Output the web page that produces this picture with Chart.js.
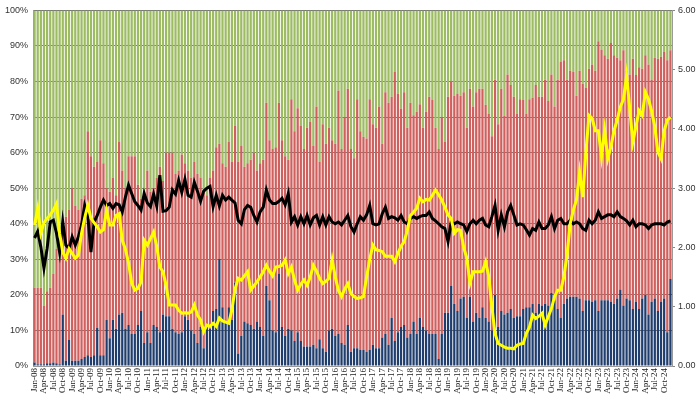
<!DOCTYPE html>
<html>
<head>
<meta charset="utf-8">
<script src="https://cdn.jsdelivr.net/npm/chart.js@4/dist/chart.umd.min.js"></script>
<style>
  html, body { margin: 0; padding: 0; background: #ffffff; }
  #wrap { width: 700px; height: 394px; position: relative; }
</style>
</head>
<body>
<div id="wrap"><canvas id="mixChart"></canvas></div>
<script>
// Categories: monthly, Jan-08 .. Dec-24
const monthNames = ["Jan", "Feb", "Mar", "Apr", "May", "Jun", "Jul", "Aug", "Sep", "Oct", "Nov", "Dec"];
const yearCodes = ["08", "09", "10", "11", "12", "13", "14", "15", "16", "17", "18", "19", "20", "21", "22", "23", "24"];

// Stacked shares (%), one row per year
const blueShare = [
  1, 0.5, 0.5, 0.5, 0.8, 0.8, 1, 0.8, 0.5, 14.5, 1.5, 7.3,
  1.5, 1.5, 1.5, 2, 2.5, 3, 2.5, 3, 10.7, 3, 3, 13,
  7.8, 13, 10.5, 14.5, 15, 10.5, 11.5, 9, 9, 11.5, 15.5, 6.5,
  9.5, 6.5, 11.5, 11, 9.5, 14.5, 14, 14, 10.5, 9.5, 9, 9.5,
  14, 13, 10, 9, 6.5, 11, 5, 11, 10.5, 15.5, 16, 30,
  16.5, 12.5, 16.5, 13, 23.5, 3.5, 8.5, 12.5, 12, 11.5, 10.5, 12.5,
  11, 8.5, 22.5, 18.5, 10, 9.5, 26, 11, 8.5, 10.5, 10, 7,
  9.5, 7, 5.5, 5.5, 5.5, 6, 5, 7.5, 5, 4, 10, 10.5,
  8.5, 9, 6.5, 6, 11.5, 4, 5, 5, 4.5, 4.5, 4, 4.5,
  6, 5, 5, 8, 9, 6, 13.5, 7, 9.5, 11, 11.5, 8,
  9, 12.5, 9, 13.5, 11, 10, 9, 9, 9, 2, 9, 15,
  15, 22.5, 17.5, 15.5, 19, 19.5, 13.5, 19.5, 12.5, 15, 13.5, 16.5,
  13.5, 12.5, 10, 20, 11, 15.5, 14.5, 15, 16, 13.5, 14, 14,
  16, 16.5, 16.5, 17.5, 15, 17.5, 17, 17.5, 17, 20.5, 18.5, 16,
  13.5, 17.5, 19, 19.5, 19.5, 19.5, 19, 15.5, 18.5, 18.5, 18, 18.5,
  15.5, 18.5, 18.5, 18.5, 18, 17.5, 19, 21.5, 17, 19, 18.5, 16,
  18, 16, 19, 20, 14.5, 18, 19, 15.5, 18, 19, 9.5, 24.5
];

const redShare = [
  21, 21.5, 21.5, 16.5, 20.2, 21.2, 25, 32.2, 29.5, 23.5, 40.5, 36.7,
  48.5, 43.5, 42.5, 45, 45.5, 63, 56.5, 53, 46.8, 60.5, 54, 37,
  41.2, 40, 37.5, 48.5, 40, 39.5, 47.5, 50, 50, 39.5, 31.5, 41.5,
  45.5, 42.5, 38.5, 42, 46.5, 37.5, 46, 46, 49.5, 44.5, 46, 50,
  43, 42, 43, 48.5, 47.5, 42, 44, 37, 42.5, 39.5, 45.5, 32.5,
  40.5, 43.5, 46.5, 44.5, 44, 54, 53.5, 43.5, 45, 46.5, 49.5, 42.5,
  46, 49.5, 51.5, 45, 51, 52, 48, 52.5, 50.5, 47.5, 65, 59,
  63, 60.5, 55.5, 61.5, 63.1, 56, 68, 50, 63, 58.5, 57, 53,
  54, 68.5, 54.5, 64, 66.5, 57, 53.4, 70, 61.5, 60, 60, 70.5,
  62, 62, 68, 54.5, 68, 68, 62.2, 75.7, 67.1, 61.4, 65.5, 59,
  65, 58, 62.5, 60.1, 56, 61.5, 66.7, 65.8, 58, 59, 61, 48,
  60.7, 57.5, 58.5, 61.1, 57, 57.5, 53.5, 58.5, 60.5, 62, 64.5, 61.5,
  60, 58.5, 54.6, 60.5, 57, 62.5, 55.8, 67, 63, 62.2, 57, 61,
  58.8, 54.5, 58.5, 58, 64, 58.2, 58.7, 63, 57.5, 61.5, 54.5, 64.5,
  72, 68.5, 61.5, 63.5, 63.2, 56.5, 64, 63.9, 59.8, 65.1, 66.8, 64.5,
  75.8, 70.5, 68.9, 67.9, 72.8, 69.9, 67.7, 64.5, 71.8, 64, 63.5, 70.4,
  63.8, 68, 64.6, 67.4, 70.3, 62.4, 67.7, 70.9, 69, 69.3, 76.5, 64.3
];

const greenShare = [
  78, 78, 78, 83, 79, 78, 74, 67, 70, 62, 58, 56,
  50, 55, 56, 53, 52, 34, 41, 44, 42.5, 36.5, 43, 50,
  51, 47, 52, 37, 45, 50, 41, 41, 41, 49, 53, 52,
  45, 51, 50, 47, 44, 48, 40, 40, 40, 46, 45, 40.5,
  43, 45, 47, 42.5, 46, 47, 51, 52, 47, 45, 38.5, 37.5,
  43, 44, 37, 42.5, 32.5, 42.5, 38, 44, 43, 42, 40, 45,
  43, 42, 26, 36.5, 39, 38.5, 26, 36.5, 41, 42, 25, 34,
  27.5, 32.5, 39, 33, 31.4, 38, 27, 42.5, 32, 37.5, 33, 36.5,
  37.5, 22.5, 39, 30, 22, 39, 41.6, 25, 34, 35.5, 36, 25,
  32, 33, 27, 37.5, 23, 26, 24.3, 17.3, 23.4, 27.6, 23, 33,
  26, 29.5, 28.5, 26.4, 33, 28.5, 24.3, 25.2, 33, 39, 30, 37,
  24.3, 20, 24, 23.4, 24, 23, 33, 22, 27, 23, 22, 22,
  26.5, 29, 35.4, 19.5, 32, 22, 29.7, 18, 21, 24.3, 29, 25,
  25.2, 29, 25, 24.5, 21, 24.3, 24.3, 19.5, 25.5, 18, 27, 19.5,
  14.5, 14, 19.5, 17, 17.3, 24, 17, 20.6, 21.7, 16.4, 15.2, 17,
  8.7, 11, 12.6, 13.6, 9.2, 12.6, 13.3, 14, 11.2, 17, 18, 13.6,
  18.2, 16, 16.4, 12.6, 15.2, 19.6, 13.3, 13.6, 13, 11.7, 14, 11.2
];

// Lines on the right axis
const yellowLine = [
  2.38, 2.66, 2.24, 2.42, 2.49, 2.55, 2.63, 2.74, 2.24, 1.92, 1.82, 1.98,
  1.9, 1.82, 1.87, 2.24, 2.5, 2.71, 2.49, 2.42, 2.35, 2.26, 2.3, 2.63,
  2.38, 2.38, 2.54, 2.57, 2.12, 1.97, 1.74, 1.4, 1.28, 1.31, 1.42, 2.12,
  2.04, 2.15, 2.26, 2.02, 1.67, 1.59, 1.36, 1.03, 1.03, 1.03, 0.94, 0.89,
  0.9, 0.89, 0.91, 1.03, 0.86, 0.78, 0.58, 0.69, 0.67, 0.72, 0.67, 0.81,
  0.76, 0.74, 0.72, 0.95, 1.3, 1.48, 1.45, 1.52, 1.59, 1.28, 1.35, 1.42,
  1.5, 1.59, 1.7, 1.6, 1.52, 1.67, 1.68, 1.7, 1.79, 1.56, 1.67, 1.45,
  1.28, 1.38, 1.45, 1.36, 1.5, 1.7, 1.6, 1.48, 1.39, 1.43, 1.48, 1.79,
  1.5, 1.28, 1.17, 1.3, 1.39, 1.22, 1.17, 1.14, 1.15, 1.17, 1.5, 1.8,
  2.04, 1.96, 1.95, 1.93, 1.85, 1.85, 1.85, 1.76, 1.9, 2.02, 2.1, 2.29,
  2.54, 2.6, 2.66, 2.83, 2.77, 2.81, 2.8, 2.88, 2.97, 2.89, 2.8, 2.68,
  2.55, 2.49, 2.24, 2.3, 2.29, 2.0, 1.82, 1.4, 1.59, 1.59, 1.59, 1.6,
  1.76, 1.51, 1.0, 0.55, 0.38, 0.35, 0.32, 0.3, 0.3, 0.29, 0.35, 0.37,
  0.38, 0.55, 0.66, 0.86, 0.8, 0.84, 0.89, 0.69, 0.83, 0.97, 1.17, 1.28,
  1.28, 1.51, 1.88, 2.4, 2.63, 2.8, 3.27, 2.85, 3.6, 4.23, 4.18, 3.97,
  3.97, 3.53, 3.98, 3.5, 3.7, 3.97, 4.15, 4.37, 4.5, 4.9, 4.35, 3.78,
  4.04, 4.31, 4.23, 4.62, 4.5, 4.3, 4.04, 3.61, 3.5, 3.97, 4.15, 4.2
];

const blackLine = [
  2.16, 2.27, 2.01, 1.65, 1.98, 2.43, 2.46, 2.24, 1.92, 2.43, 2.04, 1.98,
  2.18, 2.04, 2.18, 2.38, 2.71, 2.54, 1.92, 2.43, 2.54, 2.68, 2.8, 2.71,
  2.74, 2.66, 2.74, 2.72, 2.6, 2.85, 3.05, 2.91, 2.77, 2.71, 2.63, 2.91,
  2.75, 2.69, 2.9, 2.7, 3.22, 2.61, 2.62, 2.68, 2.97, 2.9, 3.13, 2.93,
  3.15, 2.88, 2.85, 3.1, 2.95, 2.78, 2.95, 3.0, 3.03, 2.69, 2.88, 2.7,
  2.88, 2.8, 2.85, 2.8, 2.75, 2.46, 2.4, 2.64, 2.71, 2.68, 2.54, 2.43,
  2.6, 2.68, 2.97, 2.8, 2.74, 2.74, 2.78, 2.83, 2.72, 2.91, 2.43, 2.52,
  2.38, 2.52, 2.4, 2.54, 2.38, 2.5, 2.54, 2.38, 2.52, 2.38, 2.52, 2.43,
  2.4, 2.43, 2.38, 2.46, 2.54, 2.35, 2.26, 2.4, 2.52, 2.46, 2.55, 2.71,
  2.4, 2.38, 2.4, 2.57, 2.68, 2.49, 2.52, 2.5, 2.46, 2.54, 2.43, 2.4,
  2.49, 2.52, 2.49, 2.52, 2.54, 2.54, 2.6, 2.49, 2.45, 2.4, 2.35, 2.32,
  2.1, 2.43, 2.4, 2.43, 2.4, 2.38, 2.27, 2.4, 2.46, 2.4, 2.46, 2.49,
  2.38, 2.35, 2.52, 2.71, 2.29, 2.55, 2.35, 2.6, 2.71, 2.55, 2.38, 2.4,
  2.38, 2.3, 2.21, 2.32, 2.29, 2.43, 2.32, 2.32, 2.38, 2.52, 2.32, 2.46,
  2.49, 2.4, 2.4, 2.46, 2.4, 2.43, 2.4, 2.32, 2.29, 2.46, 2.4, 2.46,
  2.6, 2.49, 2.52, 2.55, 2.55, 2.52, 2.6, 2.52, 2.49, 2.45, 2.38, 2.46,
  2.35, 2.4, 2.4, 2.38, 2.32, 2.38, 2.4, 2.4, 2.4, 2.38, 2.43, 2.45
];

// Tick labels
const leftTicks = ["0%", "10%", "20%", "30%", "40%", "50%", "60%", "70%", "80%", "90%", "100%"];
const rightTicks = ["0.00", "1.00", "2.00", "3.00", "4.00", "5.00", "6.00"];

const labels = [];
yearCodes.forEach((yy) => {
  monthNames.forEach((m) => labels.push(m + "-" + yy));
});

const ctx = document.getElementById("mixChart").getContext("2d");
new Chart(ctx, {
  type: "bar",
  data: {
    labels: labels,
    datasets: [
      {
        type: "line",
        label: "Yellow",
        data: yellowLine,
        yAxisID: "y2",
        borderColor: "#ffff00",
        borderWidth: 3,
        pointRadius: 0,
        tension: 0,
        order: 0,
      },
      {
        type: "line",
        label: "Black",
        data: blackLine,
        yAxisID: "y2",
        borderColor: "#000000",
        borderWidth: 3,
        pointRadius: 0,
        tension: 0,
        order: 1,
      },
      {
        label: "Blue",
        data: blueShare,
        backgroundColor: "#1f3d6d",
        stack: "s",
        barPercentage: 0.72,
        categoryPercentage: 1.0,
        order: 2,
      },
      {
        label: "Red",
        data: redShare,
        backgroundColor: "#d0605e",
        stack: "s",
        barPercentage: 0.72,
        categoryPercentage: 1.0,
        order: 2,
      },
      {
        label: "Green",
        data: greenShare,
        backgroundColor: "#9cbb62",
        stack: "s",
        barPercentage: 0.72,
        categoryPercentage: 1.0,
        order: 2,
      },
    ],
  },
  options: {
    responsive: true,
    maintainAspectRatio: false,
    animation: false,
    layout: { padding: { top: 10, left: 0, right: 0, bottom: 0 } },
    plugins: {
      legend: { display: false },
      tooltip: { enabled: false },
    },
    scales: {
      x: {
        stacked: true,
        grid: { display: false, drawTicks: false },
        border: { color: "#9a9a9a" },
        ticks: {
          autoSkip: false,
          maxRotation: 90,
          minRotation: 90,
          padding: 2,
          color: "#222",
          font: { family: "Liberation Serif", size: 9 },
          callback: function (value, index) {
            return index % 3 === 0 ? labels[index] : "";
          },
        },
        afterFit: (scale) => {
          scale.height = 28;
        },
      },
      y: {
        stacked: true,
        position: "left",
        min: 0,
        max: 100,
        z: 1,
        grid: { color: "rgba(70, 70, 70, 0.75)", drawTicks: false, lineWidth: 1 },
        border: { color: "#9a9a9a" },
        ticks: {
          stepSize: 10,
          padding: 5,
          color: "#333",
          font: { family: "Liberation Sans", size: 9 },
          callback: function (value) {
            return leftTicks[Math.round(value / 10)];
          },
        },
        afterFit: (scale) => {
          scale.width = 33;
        },
      },
      y2: {
        position: "right",
        min: 0,
        max: 6,
        grid: { drawOnChartArea: false, tickLength: 3, color: "#888" },
        border: { color: "#9a9a9a" },
        ticks: {
          stepSize: 1,
          padding: 3,
          color: "#333",
          font: { family: "Liberation Sans", size: 9 },
          callback: function (value) {
            return rightTicks[Math.round(value)];
          },
        },
        afterFit: (scale) => {
          scale.width = 28;
        },
      },
    },
  },
});
</script>
</body>
</html>
